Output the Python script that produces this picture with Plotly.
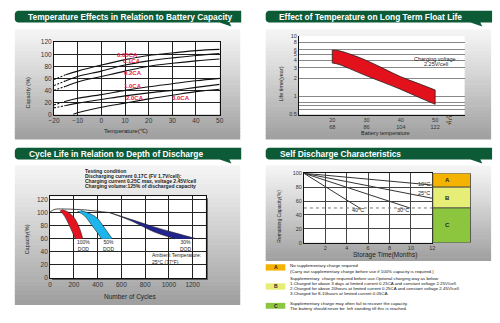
import plotly.graph_objects as go

W, H = 500, 323
def fx(x): return x / W
def fy(y): return 1 - y / H

FONT = "Liberation Sans, Arial, sans-serif"

# ---------------- Panel 1: temperature vs capacity ----------------
p1_temps = [-20, -15, -10, 0, 10, 20, 30, 40, 50]
cap_005 = [58, 66, 72, 82, 91, 98, 102, 106, 108]
cap_01 = [48, 56, 63, 72, 82, 89, 94, 98, 101]
cap_02 = [40, 47, 54, 63, 72, 80, 85, 89, 92]
cap_10 = [16, 22, 27, 33, 40, 46, 51, 56, 60]
cap_20 = [11, 15, 19, 25, 31, 36, 40, 45, 50]
p1_temps_30 = [-12, -10, 0, 10, 20, 30, 40, 50]
cap_30 = [0, 3, 12, 19, 26, 32, 38, 42]
rate_labels = ['0.05CA', '0.1CA', '0.2CA', '1.0CA', '2.0CA', '3.0CA']
rate_label_x = [11.2, 13, 13.5, 13.3, 14.4, 33.8]
rate_label_y = [98.5, 88, 69, 47, 28, 28]

# ---------------- Panel 2: float life ----------------
p2_temps = [20, 22, 25, 30, 35, 40, 45, 50]
life_upper = [5.9, 5.75, 5.1, 3.95, 2.9, 2.12, 1.65, 1.28]
life_lower = [3.6, 3.4, 2.9, 2.2, 1.7, 1.31, 0.98, 0.74]
p2_ticks = [20, 30, 40, 50]
p2_ticktext = ['20<br>68', '30<br>86', '40<br>104', '50<br>122']
p2_yvals = [0.5, 0.6, 0.7, 0.8, 1, 2, 3, 4, 5, 6, 8, 10]
p2_ytext = ['0.5', '', '', '', '1', '2', '3', '4', '5', '6', '8', '10']

# ---------------- Panel 3: cycle life ----------------
base_cycles = [0, 40, 100, 200, 300, 400, 500]
base_cap = [101, 105, 105.5, 105, 104, 102, 100]
red_left_c = [83, 124, 165, 212]
red_left_v = [103, 94, 79, 60]
red_right_c = [100, 150, 207, 248, 275]
red_right_v = [104.5, 101, 91, 76, 60]
blue_left_c = [230, 290, 345, 395, 432]
blue_left_v = [102, 95, 82, 70, 60]
blue_right_c = [260, 340, 400, 441, 480, 523]
blue_right_v = [103, 98, 91, 81, 71, 60]
navy_upper_c = [500, 700, 868, 1050, 1231]
navy_upper_v = [100, 88.5, 78.5, 69, 60]
navy_lower_c = [500, 700, 868, 1047]
navy_lower_v = [100, 86, 71, 60]
dod_labels = ['100%<br>DOD', '50%<br>DOD', '30%<br>DOD']
dod_label_x = [284, 494, 1145]
dod_label_y = [49, 49, 49]

# ---------------- Panel 4: self discharge ----------------
sd_labels = ['10°C', '25°C', '30°C', '40°C']
sd_end_month = [12, 12, 9.9, 5.3]
sd_end_cap = [83, 64, 50, 49]
sd_label_x = [11.2, 11.2, 9.3, 5.1]
sd_label_y = [85, 72, 47, 47]
half_level = 50
zone_names = ['A', 'B', 'C']
zone_low = [80, 50, 0]
zone_high = [100, 80, 50]
zone_colors = ['#f3b300', '#e6ee78', '#8cc63f']
legend_texts = [
    ['No supplementary charge required',
     '(Carry out supplementary charge before use if 100% capacity is required.)'],
    ['Supplementary  charge required before use.Optional charging way as below:',
     '1.Charged for above 3 days at limited current 0.25CA and constant voltage 2.25V/cell.',
     '2.Charged for above 20hours at limited current 0.25CA and constant voltage 2.45V/cell.',
     '3.Charged for 8-10hours at limited current 0.05CA.'],
    ['Supplementary charge may often fail to recover the capacity.',
     'The battery should never be  left standing till this is reached.'],
]
legend_text_y = [[267, 273.5], [281, 286, 291, 296], [306, 311.5]]
legend_box_y = [(266, 272.5), (285.5, 292), (305.5, 311.5)]

test_cond = ['Testing condition',
             'Discharging current 0.17C (FV 1.7V/cell):',
             'Charging current 0.25C max, voltage 2.45V/cell',
             'Charging volume:125% of discharged capacity']
titles = ['Temperature Effects in Relation to Battery Capacity',
          'Effect of Temperature on Long Term Float Life',
          'Cycle Life in Relation to Depth of Discharge',
          'Self Discharge Characteristics']

fig = go.Figure()

# Panel 1 traces
for caps in [cap_005, cap_01, cap_02, cap_10, cap_20]:
    fig.add_trace(go.Scatter(x=p1_temps[:2], y=caps[:2], mode='lines',
                             line=dict(color='#111', width=1.1, dash='2px,1.5px'),
                             xaxis='x', yaxis='y', showlegend=False))
    fig.add_trace(go.Scatter(x=p1_temps[1:], y=caps[1:], mode='lines', line_shape='spline',
                             line=dict(color='#111', width=1.1),
                             xaxis='x', yaxis='y', showlegend=False))
fig.add_trace(go.Scatter(x=p1_temps_30, y=cap_30, mode='lines', line_shape='spline',
                         line=dict(color='#111', width=1.1), xaxis='x', yaxis='y', showlegend=False))

# band helper: two spline edges, filled between
def band(xa, ya, xb, yb, color, xax, yax, lw=0.7):
    fig.add_trace(go.Scatter(x=xa, y=ya, mode='lines', line_shape='spline',
                             line=dict(color='#222', width=lw), xaxis=xax, yaxis=yax, showlegend=False))
    fig.add_trace(go.Scatter(x=xb, y=yb, mode='lines', line_shape='spline', fill='tonexty',
                             fillcolor=color, line=dict(color='#222', width=lw),
                             xaxis=xax, yaxis=yax, showlegend=False))

# Panel 2 band
band(p2_temps, life_lower, p2_temps, life_upper, '#e3111b', 'x2', 'y2', 0.8)
for i in [0, -1]:
    fig.add_trace(go.Scatter(x=[p2_temps[i], p2_temps[i]], y=[life_lower[i], life_upper[i]], mode='lines',
                             line=dict(color='#222', width=0.8), xaxis='x2', yaxis='y2', showlegend=False))

# Panel 3 bands
band(red_left_c, red_left_v, red_right_c, red_right_v, '#e5131f', 'x3', 'y3', 0.6)
band(blue_left_c, blue_left_v, blue_right_c, blue_right_v, '#1cb6ec', 'x3', 'y3', 0.6)
band(navy_lower_c, navy_lower_v, navy_upper_c, navy_upper_v, '#22248e', 'x3', 'y3', 0.6)
fig.add_trace(go.Scatter(x=base_cycles, y=base_cap, mode='lines', line_shape='spline',
                         line=dict(color='#222', width=0.8), xaxis='x3', yaxis='y3', showlegend=False))

# Panel 4 lines
for m, c in zip(sd_end_month, sd_end_cap):
    fig.add_trace(go.Scatter(x=[0, m], y=[100, c], mode='lines',
                             line=dict(color='#333', width=1), xaxis='x4', yaxis='y4', showlegend=False))
fig.add_trace(go.Scatter(x=[0, 12], y=[half_level, half_level], mode='lines',
                         line=dict(color='#777', width=1, dash='dot'), xaxis='x4', yaxis='y4', showlegend=False))

# ---------------- shapes ----------------
shapes = []
def rect_px(x0, y0, x1, y1, fill, line_color=None, lw=0, layer='below'):
    shapes.append(dict(type='rect', xref='paper', yref='paper', x0=fx(x0), x1=fx(x1),
                       y0=fy(y1), y1=fy(y0), fillcolor=fill,
                       line=dict(width=lw, color=line_color or fill), layer=layer))

def lerp(c0, c1, t):
    return '#%02x%02x%02x' % tuple(int(round(a + (b - a) * t)) for a, b in zip(c0, c1))

boxes = [(9, 26, 239, 138), (265, 26, 495, 138), (9, 165, 239, 307), (265, 165, 495, 262)]
N = 30
for (x0, y0, x1, y1) in boxes:
    h = (y1 - y0) / N
    for i in range(N):
        t = (i / (N - 1)) ** 1.1
        rect_px(x0, y0 + i * h, x1, y0 + (i + 1) * h + 0.6, lerp((244, 244, 244), (160, 160, 160), t))

# plot area backgrounds
rect_px(47, 198.5, 206, 282, '#555')
for (x0, y0, x1, y1) in [(49, 39, 218, 113), (299, 33, 468, 113), (45, 196.5, 204, 280), (304, 173, 435, 244)]:
    rect_px(x0, y0, x1, y1, 'white')

# headers
def path_px(pts):
    return 'M ' + ' L '.join('%f,%f' % (fx(x), fy(y)) for x, y in pts) + ' Z'
for (x0, y0, x1, y1) in [(9, 7, 240, 19), (265, 7, 496, 19), (9, 147, 240, 159), (265, 147, 496, 159)]:
    pts = [(x0 + 3, y0), (x1, y0), (x1, y1), (x1 - 12, y1), (x1 - 10, y1 + 4), (x1 - 22, y1),
           (x0 + 3, y1), (x0 + 1, y1 - 1), (x0, y1 - 3), (x0, y0 + 3), (x0 + 1, y0 + 1)]
    shapes.append(dict(type='path', xref='paper', yref='paper', path=path_px(pts),
                       fillcolor='#0d5a37', line=dict(width=0), layer='above'))

# zone boxes panel 4
for lo, hi, col in zip(zone_low, zone_high, zone_colors):
    shapes.append(dict(type='rect', xref='paper', yref='y4', x0=fx(435.5), x1=fx(474),
                       y0=lo, y1=hi, fillcolor=col, line=dict(color='#444', width=0.8), layer='above'))
# legend boxes
for (y0, y1), col in zip(legend_box_y, zone_colors):
    rect_px(265, y0, 285, y1, col, layer='above')

# ---------------- annotations ----------------
ann = []
def text_px(x, y, s, size=6, color='#222', xanchor='center', bold=False, angle=0, yanchor='middle'):
    ann.append(dict(x=fx(x), y=fy(y), xref='paper', yref='paper', text=('<b>%s</b>' % s) if bold else s,
                    showarrow=False, xanchor=xanchor, yanchor=yanchor, textangle=angle,
                    font=dict(family=FONT, size=size, color=color)))

for (x, y), t in zip([(20, 13), (277, 13), (21, 153), (278, 153)], titles):
    text_px(x, y, t, size=8.4, color='white', xanchor='left', bold=True)

for lab, x, y in zip(rate_labels, rate_label_x, rate_label_y):
    ann.append(dict(x=x, y=y, xref='x', yref='y', text='<b>%s</b>' % lab, showarrow=False,
                    font=dict(family=FONT, size=6, color='#e8203a')))
text_px(22, 91, 'Capacity (%)', size=5.5, angle=-90)
text_px(122, 130, 'Temperature(℃)', size=6)

text_px(281, 82, 'Life time(year)', size=5.5, angle=-90)
text_px(387, 131.5, 'Battery temperature', size=5.5)
text_px(439, 56.5, 'Charging voltage :', size=5.5)
text_px(439, 61.5, '2.25V/cell', size=5.5)
text_px(452, 117, '°C', size=5.5)
text_px(452, 122, '°F', size=5.5)

for i, t in enumerate(test_cond):
    text_px(79, 171 + i * 5.1, '<b>%s</b>' % t, size=5, xanchor='left')
for lab, x, y in zip(dod_labels, dod_label_x, dod_label_y):
    ann.append(dict(x=x, y=y, xref='x3', yref='y3', text=lab, showarrow=False,
                    font=dict(family=FONT, size=5, color='#222')))
ann.append(dict(x=842, y=30, xref='x3', yref='y3', xanchor='left', align='left',
                text='Ambient Temperature:<br>25°C (77°F)', showarrow=False,
                font=dict(family=FONT, size=5, color='#222')))
text_px(21, 241, 'Capacity(%)', size=5.5, angle=-90)
text_px(127, 299, 'Number of Cycles', size=6.5)

for lab, x, y in zip(sd_labels, sd_label_x, sd_label_y):
    ann.append(dict(x=x, y=y, xref='x4', yref='y4', text=lab, showarrow=False,
                    font=dict(family=FONT, size=5.5, color='#222')))
for nm, lo, hi in zip(zone_names, zone_low, zone_high):
    ann.append(dict(x=fx(455), y=(lo + hi) / 2, xref='paper', yref='y4', text='<b>%s</b>' % nm,
                    showarrow=False, font=dict(family=FONT, size=6, color='#222')))
text_px(279, 217, 'Remaining Capacity(%)', size=5, angle=-90)
text_px(387, 257, 'Storage Time(Months)', size=6.5)

for (y0, y1), nm in zip(legend_box_y, zone_names):
    text_px(275, (y0 + y1) / 2, '<b>%s</b>' % nm, size=5)
for lines, ys in zip(legend_texts, legend_text_y):
    for s, y in zip(lines, ys):
        text_px(288, y, s, size=4.4, xanchor='left', color='#111')

# ---------------- axes ----------------
axbase = dict(showgrid=True, gridcolor='#222', gridwidth=0.8, zeroline=False, showline=True,
              linecolor='#111', linewidth=1, mirror=True, ticks='', fixedrange=True,
              tickfont=dict(family=FONT, size=6.5, color='#333'))

fig.update_layout(
    width=W, height=H, margin=dict(l=0, r=0, t=0, b=0),
    paper_bgcolor='white', plot_bgcolor='rgba(0,0,0,0)', showlegend=False,
    shapes=shapes, annotations=ann,
    xaxis=dict(axbase, domain=[fx(49), fx(218)], range=[-20, 50], anchor='y',
               tickvals=[-20, -10, 0, 10, 20, 30, 40, 50]),
    yaxis=dict(axbase, domain=[fy(113), fy(39)], range=[0, 120], anchor='x', dtick=20),
    xaxis2=dict(axbase, domain=[fx(299), fx(468)], range=[10.3, 58.6], anchor='y2',
                showgrid=False, mirror=False, tickvals=p2_ticks, ticktext=p2_ticktext,
                tickfont=dict(family=FONT, size=5.5, color='#333')),
    yaxis2=dict(axbase, domain=[fy(113), fy(33)], type='log', range=[-0.30103, 1], anchor='x2',
                mirror=False, gridcolor='#888', tickvals=p2_yvals, ticktext=p2_ytext,
                tickfont=dict(family=FONT, size=5.5, color='#333')),
    xaxis3=dict(axbase, domain=[fx(45), fx(204)], range=[0, 1312], anchor='y3', dtick=200),
    yaxis3=dict(axbase, domain=[fy(280), fy(196.5)], range=[0, 125], anchor='x3',
                tickvals=[0, 20, 40, 60, 80, 100, 120]),
    xaxis4=dict(axbase, domain=[fx(304), fx(435)], range=[0, 12], anchor='y4',
                tickvals=[2, 4, 6, 8, 10, 12], gridcolor='#444',
                tickfont=dict(family=FONT, size=5.5, color='#333')),
    yaxis4=dict(axbase, domain=[fy(244), fy(173)], range=[0, 100], anchor='x4', dtick=20,
                gridcolor='#444', tickfont=dict(family=FONT, size=5.5, color='#333')),
)

fig.write_html("out.html")
